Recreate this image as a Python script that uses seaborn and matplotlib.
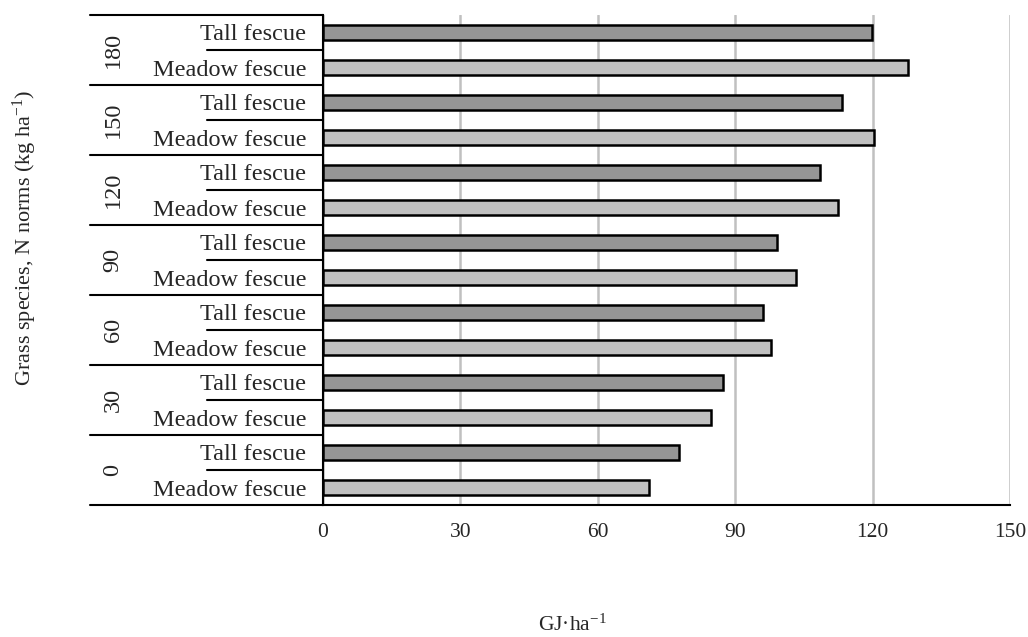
import pandas as pd
import numpy as np
import matplotlib
matplotlib.use('Agg')
import matplotlib.pyplot as plt
import matplotlib.transforms as mtransforms
import seaborn as sns

# data, top to bottom as in the chart
n_norms = ['180', '150', '120', '90', '60', '30', '0']
species = ['Tall fescue', 'Meadow fescue']
tall_fescue = [119.8, 113.3, 108.5, 99.2, 96.1, 87.4, 77.8]
meadow_fescue = [127.7, 120.3, 112.4, 103.3, 97.8, 84.8, 71.2]
x_ticks = [0, 30, 60, 90, 120, 150]

rows = []
for n, t, m in zip(n_norms, tall_fescue, meadow_fescue):
    rows.append({'row': f'{n} | Tall fescue', 'norm': n, 'species': 'Tall fescue', 'energy': t})
    rows.append({'row': f'{n} | Meadow fescue', 'norm': n, 'species': 'Meadow fescue', 'energy': m})
df = pd.DataFrame(rows)

sns.set_style('white')
plt.rcParams['font.family'] = ['Liberation Serif', 'DejaVu Serif']
plt.rcParams['mathtext.default'] = 'regular'

fig = plt.figure(figsize=(10.28, 6.37), dpi=100)
ax = fig.add_axes([323 / 1028, 1 - 505 / 637, 687 / 1028, 490 / 637])

sns.barplot(data=df, y='row', x='energy', hue='species', dodge=False,
            palette={'Tall fescue': '#969696', 'Meadow fescue': '#c0c0c0'},
            width=0.43, edgecolor='black', linewidth=1.8, legend=False, ax=ax, zorder=3)

ax.set_xlim(0, 150)
ax.set_ylim(len(df) - 0.5, -0.5)
ax.set_xticks(x_ticks)
ax.set_xticklabels([str(v) for v in x_ticks], fontsize=15.5)
ax.set_yticks(range(len(df)))
ax.set_yticklabels(df['species'], fontsize=17.5)
ax.tick_params(axis='y', length=0, pad=12)
ax.tick_params(axis='x', length=7, width=1.5, direction='out', pad=6, color='black')
ax.set_xlabel('')
ax.set_ylabel('')

ax.xaxis.grid(True, color='#c0c0c0', linewidth=1.8, zorder=0)
ax.set_axisbelow(True)
for s in ['top', 'right']:
    ax.spines[s].set_visible(False)
for s in ['left', 'bottom']:
    ax.spines[s].set_color('black')
    ax.spines[s].set_linewidth(1.5)

# hierarchical category lines and group labels on the left
trans = mtransforms.blended_transform_factory(ax.transAxes, ax.transData)
x_outer = (90 - 323) / 687
x_inner = (207 - 323) / 687
for i in range(len(n_norms) + 1):
    y = 2 * i - 0.5
    ax.plot([x_outer, 0], [y, y], color='black', lw=1.5, transform=trans, clip_on=False)
for i, n in enumerate(n_norms):
    ax.plot([x_inner, 0], [2 * i + 0.5, 2 * i + 0.5], color='black', lw=1.5,
            transform=trans, clip_on=False)
    ax.text((113 - 323) / 687, 2 * i + 0.5, n, rotation=90, ha='center', va='center',
            fontsize=17.5, transform=trans)

fig.text(25 / 1028, 1 - 238 / 637, 'Grass species, N norms (kg ha$^{-1}$)',
         rotation=90, ha='center', va='center', fontsize=16)
fig.text(572 / 1028, 1 - 625 / 637, 'GJ·ha$^{-1}$', ha='center', va='center', fontsize=15.5)

fig.savefig('out.png', dpi=100)
